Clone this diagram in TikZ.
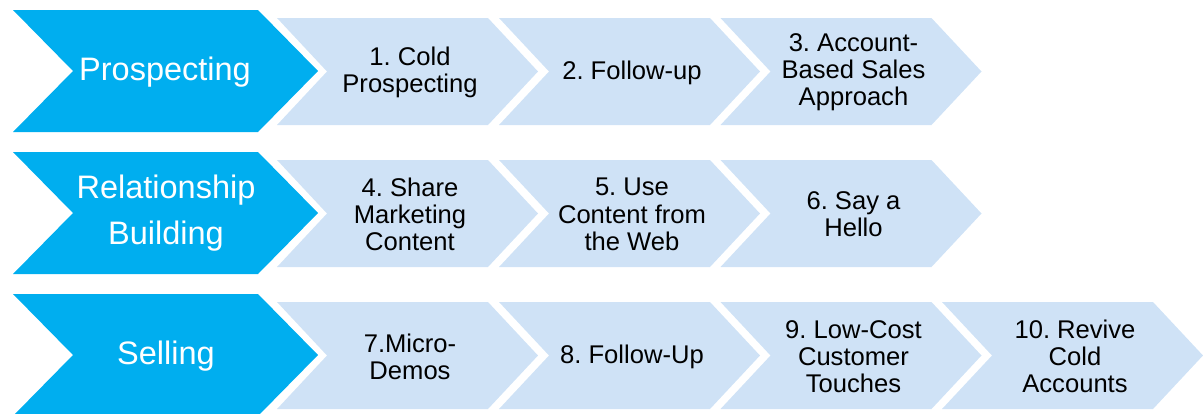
\documentclass[tikz,border=0pt]{standalone}
\usepackage{fontspec}
\setmainfont{Liberation Sans}
\frenchspacing
\definecolor{darkchev}{RGB}{0,174,239}
\definecolor{lightchev}{RGB}{207,226,246}
\tikzset{
  darklbl/.style={text=white, align=center, font=\fontsize{32.5}{46}\selectfont, inner sep=0pt},
  lightlbl/.style={text=black, align=center, font=\fontsize{25.6}{27.2}\selectfont, inner sep=0pt},
}
\newcommand{\darkchevron}[1]{%
  \fill[darkchev] (13,#1-61) -- (258,#1-61) -- (318,#1) -- (258,#1+61) -- (13,#1+61) -- (73,#1) -- cycle;}
\newcommand{\lightchevron}[2]{%
  \fill[lightchev] (#1,#2-53.5) -- (#1+211,#2-53.5) -- (#1+261,#2) -- (#1+211,#2+53.5) -- (#1,#2+53.5) -- (#1+50,#2) -- cycle;}
\begin{document}
\begin{tikzpicture}[x=1pt,y=-1pt]
\useasboundingbox (0,0) rectangle (1203,413);
% row 1
\lightchevron{277}{71.5}
\lightchevron{499}{71.5}
\lightchevron{720.5}{71.5}
\darkchevron{71}
\node[darklbl] (p) at (165,72) {Prospecting};
\node[lightlbl] (s1) at (410,72.5) {1. Cold\\Prospecting};
\node[lightlbl] (s2) at (632,72.5) {2. Follow-up};
\node[lightlbl] (s3) at (853.5,72.5) {3. Account-\\Based Sales\\Approach};
% row 2
\lightchevron{277}{213.5}
\lightchevron{499}{213.5}
\lightchevron{720.5}{213.5}
\darkchevron{213}
\node[darklbl] (r) at (166,213) {Relationship\\Building};
\node[lightlbl] (s4) at (410,214.5) {4. Share\\Marketing\\Content};
\node[lightlbl] (s5) at (632,214.5) {5. Use\\Content from\\the Web};
\node[lightlbl] (s6) at (853.5,214.5) {6. Say a\\Hello};
% row 3
\lightchevron{277}{355.5}
\lightchevron{499}{355.5}
\lightchevron{720.5}{355.5}
\lightchevron{942}{355.5}
\darkchevron{355}
\node[darklbl] (sl) at (166,356) {Selling};
\node[lightlbl] (s7) at (410,356.5) {7.Micro-\\Demos};
\node[lightlbl] (s8) at (632,356.5) {8. Follow-Up};
\node[lightlbl] (s9) at (853.5,356.5) {9. Low-Cost\\Customer\\Touches};
\node[lightlbl] (s10) at (1075,356.5) {10. Revive\\Cold\\Accounts};
\end{tikzpicture}
\end{document}
